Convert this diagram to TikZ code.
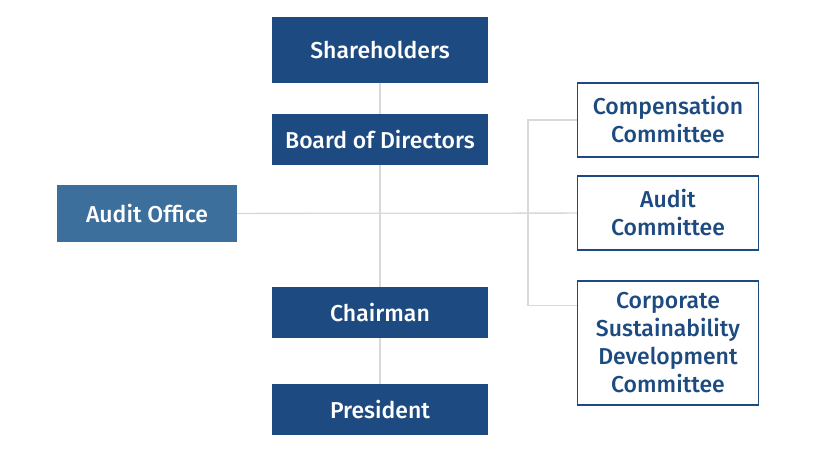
\documentclass[tikz,border=0pt]{standalone}
\usepackage{fontspec}
\setmainfont{Fira Sans}[BoldFont={Fira Sans Medium}]
\usetikzlibrary{positioning,calc,backgrounds}
\definecolor{navy}{HTML}{1D4A80}
\definecolor{steel}{HTML}{3D6F9C}
\definecolor{rule}{HTML}{D9D9D9}

\begin{document}
\begin{tikzpicture}[x=1pt, y=-1pt, line/.style = {draw=rule, line width=1.3pt}]
		\tikzset{head/.style={rectangle,fill=navy,text=white,inner sep=0pt,align=center,minimum width=216pt,font=\fontsize{23}{26}\selectfont\bfseries}}
		\tikzset{board/.style={rectangle,draw=navy,line width=1.3pt,fill=white,text=navy,inner sep=0pt,align=center,minimum width=181pt,font=\fontsize{23}{28}\selectfont\bfseries}}

		\useasboundingbox (0,0) rectangle (820,469);

		% Main chain
		\node[head, minimum height=66pt] (share) at (380,50) {Shareholders};
		\node[head, minimum height=51pt] (bod) at (380,139.5) {Board of Directors};
		\node[head, minimum height=51pt] (chair) at (380,312.5) {Chairman};
		\node[head, minimum height=51pt] (pres) at (380,409.5) {President};

		% Audit office
		\node[head, fill=steel, minimum width=180pt, minimum height=57pt] (office) at (147,213.5) {Audit Office};

		% Committees
		\node[board, minimum height=74pt] (comp) at (668,120) {Compensation\\Committee};
		\node[board, minimum height=74pt] (audit) at (668,213) {Audit\\Committee};
		\node[board, minimum height=124pt] (csd) at (668,343) {Corporate\\Sustainability\\Development\\Committee};

		\coordinate (csdin) at ($(csd.north west)+(0,25)$);
		\coordinate (fork) at ($(comp.west)+(-49,0)$);

		% Lines
		\begin{scope}[on background layer]
		\draw [line] (office) -- (audit);
		\draw [line] (share) -- (bod);
		\draw [line] (bod) -- (chair);
		\draw [line] (chair) -- (pres);
		\draw [line] (comp.west) -- (fork) |- (csdin);
		\end{scope}

	\end{tikzpicture}
\end{document}
